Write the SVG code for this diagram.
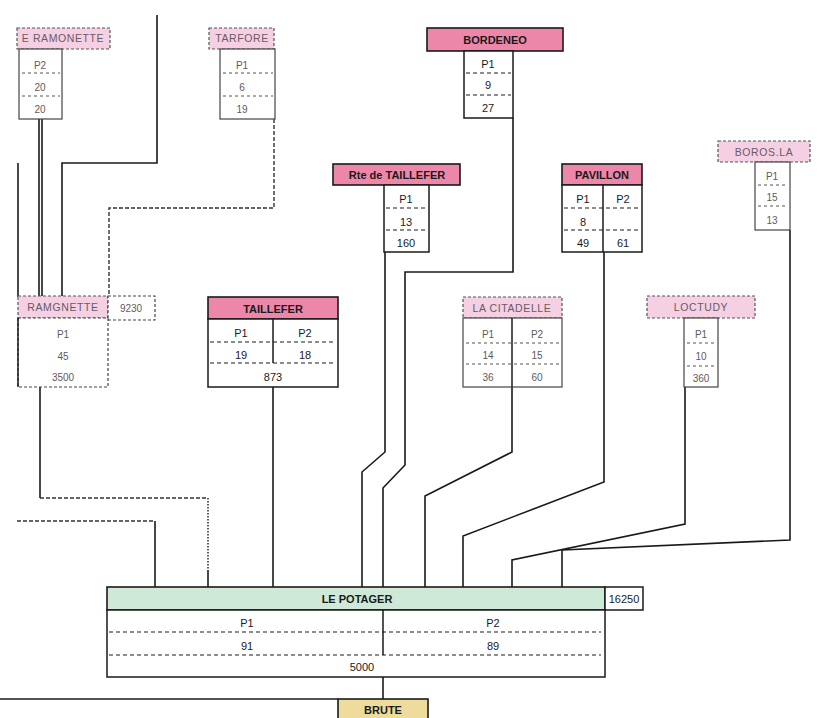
<svg xmlns="http://www.w3.org/2000/svg" width="821" height="718" viewBox="0 0 821 718">
<style>
.bg{fill:#ffffff}
.hs{fill:#ec87a9;stroke:#1a1a1a;stroke-width:1.6}
.hl{fill:#f5cfe2;stroke:#555;stroke-width:1.2;stroke-dasharray:3 2}
.hg{fill:#cfe9d8;stroke:#1a1a1a;stroke-width:1.6}
.hy{fill:#eedc9c;stroke:#1a1a1a;stroke-width:1.6}
.bx{fill:#ffffff;stroke:#1a1a1a;stroke-width:1.5}
.bxl{fill:#ffffff;stroke:#444;stroke-width:1.2}
.bxd{fill:#ffffff;stroke:#444;stroke-width:1.2;stroke-dasharray:3 2}
.dl{stroke:#1a1a1a;stroke-width:1.2;stroke-dasharray:4 3;fill:none}
.dll{stroke:#555;stroke-width:1;stroke-dasharray:3 3;fill:none}
.vl{stroke:#1a1a1a;stroke-width:1.5;fill:none}
.c{stroke:#1a1a1a;stroke-width:1.6;fill:none}
.cd{stroke:#333;stroke-width:1.4;fill:none;stroke-dasharray:4 2}
.cdot{stroke:#333;stroke-width:1.6;fill:none;stroke-dasharray:1.5 1.5}
text{font-family:"Liberation Sans",Arial,sans-serif;font-size:11px;fill:#1a1a1a;text-anchor:middle}
.b{font-weight:bold}
.f{fill:#5e5a60;font-size:10px}
.fh{fill:#6a5a66;font-size:10.5px;letter-spacing:0.6px}
</style>
<rect class="bg" x="0" y="0" width="821" height="718"/>

<g id="connectors">
  <path class="c" d="M157,15 V163 H62 V297"/>
  <path class="c" d="M39,119 V297"/>
  <path class="c" d="M42,119 V297"/>
  <path class="c" d="M18,163 V297"/>
  <path class="cd" d="M274,119 V208 H109 V297"/>
  <path class="c" d="M40,387 V498"/>
  <path class="cd" d="M40,498 H208"/>
  <path class="cdot" d="M208,498 V570"/>
  <path class="c" d="M208,570 V587"/>
  <path class="cd" d="M17,521 H155"/>
  <path class="c" d="M155,521 V587"/>
  <path class="c" d="M273,387 V587"/>
  <path class="c" d="M385,252 V452 L362,472 V587"/>
  <path class="c" d="M513,118 V272 H405 V465 L383,488 V587"/>
  <path class="c" d="M512,387 V452 L425,496 V587"/>
  <path class="c" d="M604,252 V482 L463,536 V587"/>
  <path class="c" d="M685,387 V524 L512,560 V587"/>
  <path class="c" d="M790,230 V540 L562,550 V587"/>
  <path class="c" d="M383,677 V699"/>
  <path class="c" d="M0,699 H338"/>
</g>

<g id="e-ramonette">
  <rect class="hl" x="17" y="28" width="93" height="21"/>
  <text class="fh" x="63" y="42">E RAMONETTE</text>
  <rect class="bxl" x="19" y="49" width="43" height="70"/>
  <line class="dll" x1="22" y1="73" x2="60" y2="73"/>
  <line class="dll" x1="22" y1="96" x2="60" y2="96"/>
  <text class="f" x="40" y="69">P2</text>
  <text class="f" x="40" y="91">20</text>
  <text class="f" x="40" y="113">20</text>
</g>

<g id="tarfore">
  <rect class="hl" x="209" y="28" width="65" height="21"/>
  <text class="fh" x="242" y="42">TARFORE</text>
  <rect class="bxl" x="220" y="49" width="55" height="70"/>
  <line class="dll" x1="223" y1="73" x2="273" y2="73"/>
  <line class="dll" x1="223" y1="96" x2="273" y2="96"/>
  <text class="f" x="242" y="69">P1</text>
  <text class="f" x="242" y="91">6</text>
  <text class="f" x="242" y="113">19</text>
</g>

<g id="bordeneo">
  <rect class="hs" x="427" y="28" width="136" height="23"/>
  <text class="b" x="495" y="44">BORDENEO</text>
  <rect class="bx" x="464" y="51" width="49" height="67"/>
  <line class="dl" x1="466" y1="73" x2="511" y2="73"/>
  <line class="dl" x1="466" y1="95" x2="511" y2="95"/>
  <text x="488" y="68">P1</text>
  <text x="488" y="89">9</text>
  <text x="488" y="112">27</text>
</g>

<g id="rte-de-taillefer">
  <rect class="hs" x="333" y="164" width="127" height="21"/>
  <text class="b" x="397" y="179">Rte de TAILLEFER</text>
  <rect class="bx" x="384" y="185" width="45" height="67"/>
  <line class="dl" x1="386" y1="208" x2="427" y2="208"/>
  <line class="dl" x1="386" y1="230" x2="427" y2="230"/>
  <text x="406" y="203">P1</text>
  <text x="406" y="226">13</text>
  <text x="406" y="247">160</text>
</g>

<g id="pavillon">
  <rect class="hs" x="562" y="164" width="80" height="21"/>
  <text class="b" x="602" y="179">PAVILLON</text>
  <rect class="bx" x="562" y="185" width="80" height="67"/>
  <line class="vl" x1="603" y1="185" x2="603" y2="252"/>
  <line class="dl" x1="564" y1="208" x2="640" y2="208"/>
  <line class="dl" x1="564" y1="230" x2="640" y2="230"/>
  <text x="583" y="203">P1</text>
  <text x="623" y="203">P2</text>
  <text x="583" y="226">8</text>
  <text x="583" y="247">49</text>
  <text x="623" y="247">61</text>
</g>

<g id="borosla">
  <rect class="hl" x="718" y="141" width="92" height="21"/>
  <text class="fh" x="764" y="156">BOROS.LA</text>
  <rect class="bxl" x="755" y="162" width="35" height="68"/>
  <line class="dll" x1="758" y1="185" x2="788" y2="185"/>
  <line class="dll" x1="758" y1="206" x2="788" y2="206"/>
  <text class="f" x="772" y="180">P1</text>
  <text class="f" x="772" y="201">15</text>
  <text class="f" x="772" y="224">13</text>
</g>

<g id="ramognette">
  <rect class="hl" x="18" y="296" width="90" height="22"/>
  <text class="fh" x="63" y="311">RAMGNETTE</text>
  <rect class="bxd" x="108" y="296" width="47" height="24"/>
  <text class="f" x="131" y="312">9230</text>
  <rect class="bxd" x="18" y="318" width="90" height="69"/>
  <line class="vl" x1="18" y1="318" x2="18" y2="387"/>
  <text class="f" x="63" y="338">P1</text>
  <text class="f" x="63" y="360">45</text>
  <text class="f" x="63" y="381">3500</text>
</g>

<g id="taillefer">
  <rect class="hs" x="208" y="297" width="130" height="22"/>
  <text class="b" x="273" y="313">TAILLEFER</text>
  <rect class="bx" x="208" y="319" width="130" height="68"/>
  <line class="vl" x1="273" y1="319" x2="273" y2="363"/>
  <line class="dl" x1="210" y1="342" x2="336" y2="342"/>
  <line class="dl" x1="210" y1="363" x2="336" y2="363"/>
  <text x="241" y="337">P1</text>
  <text x="305" y="337">P2</text>
  <text x="241" y="359">19</text>
  <text x="305" y="359">18</text>
  <text x="273" y="381">873</text>
</g>

<g id="la-citadelle">
  <rect class="hl" x="463" y="297" width="99" height="21"/>
  <text class="fh" x="512" y="312">LA CITADELLE</text>
  <rect class="bxl" x="463" y="318" width="99" height="69"/>
  <line class="vl" x1="512" y1="318" x2="512" y2="387"/>
  <line class="dll" x1="466" y1="343" x2="560" y2="343"/>
  <line class="dll" x1="466" y1="364" x2="560" y2="364"/>
  <text class="f" x="488" y="338">P1</text>
  <text class="f" x="537" y="338">P2</text>
  <text class="f" x="488" y="359">14</text>
  <text class="f" x="537" y="359">15</text>
  <text class="f" x="488" y="381">36</text>
  <text class="f" x="537" y="381">60</text>
</g>

<g id="loctudy">
  <rect class="hl" x="647" y="296" width="108" height="22"/>
  <text class="fh" x="701" y="311">LOCTUDY</text>
  <rect class="bxl" x="684" y="318" width="34" height="69"/>
  <line class="dll" x1="687" y1="343" x2="716" y2="343"/>
  <line class="dll" x1="687" y1="366" x2="716" y2="366"/>
  <text class="f" x="701" y="338">P1</text>
  <text class="f" x="701" y="360">10</text>
  <text class="f" x="701" y="382">360</text>
</g>

<g id="le-potager">
  <rect class="hg" x="107" y="587" width="498" height="23"/>
  <text class="b" x="357" y="603">LE POTAGER</text>
  <rect class="bx" x="605" y="587" width="38" height="23"/>
  <text x="624" y="603">16250</text>
  <rect class="bx" x="107" y="610" width="498" height="67"/>
  <line class="vl" x1="383" y1="610" x2="383" y2="655"/>
  <line class="dl" x1="109" y1="632" x2="601" y2="632"/>
  <line class="dl" x1="109" y1="655" x2="601" y2="655"/>
  <text x="247" y="627">P1</text>
  <text x="493" y="627">P2</text>
  <text x="247" y="650">91</text>
  <text x="493" y="650">89</text>
  <text x="362" y="671">5000</text>
</g>

<g id="brute">
  <rect class="hy" x="338" y="699" width="90" height="24"/>
  <text class="b" x="383" y="714">BRUTE</text>
</g>
</svg>
